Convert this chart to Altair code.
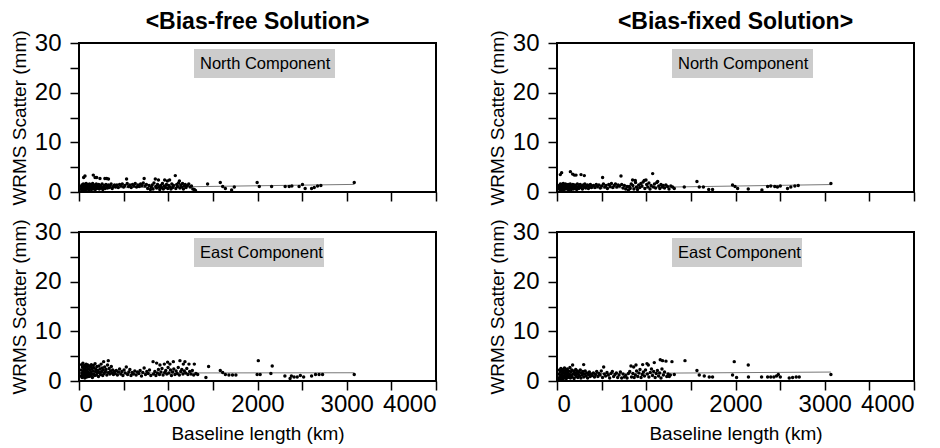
import altair as alt
import pandas as pd

FONT = "Liberation Sans"

# ---------------- data (baseline length km, WRMS scatter mm) ----------------
north_free = [
    (22,0.6),(25,1.1),(30,0.4),(33,1.4),(38,0.8),(42,1.2),(45,0.5),(48,1.6),(52,0.9),(55,1.3),
    (58,0.4),(62,1.0),(66,1.5),(70,0.7),(73,1.2),(77,0.5),(80,1.7),(84,0.9),(88,1.3),(92,0.6),
    (96,1.1),(100,1.5),(105,0.8),(110,0.4),(114,1.2),(118,1.6),(123,0.7),(128,1.0),(133,1.4),(138,0.5),
    (143,0.9),(148,1.3),(153,1.7),(158,0.6),(164,1.1),(170,0.8),(176,1.4),(182,0.5),(188,1.0),(194,1.6),
    (200,0.7),(207,1.2),(214,0.9),(221,1.5),(228,0.6),(235,1.1),(243,1.3),(251,0.8),(259,1.6),(267,0.5),
    (275,1.0),(284,1.3),(293,0.7),(302,1.5),(311,1.1),(320,0.8),(330,1.4),(340,0.9),(350,1.2),(360,1.6),
    (372,0.7),(385,1.1),(398,1.4),
    (52,2.9),(67,3.2),(160,3.4),(180,2.9),(198,2.9),(235,2.7),(290,2.7),(310,2.7),(330,2.6),
    (410,1.0),(425,1.4),(440,0.9),(455,1.5),(470,1.2),(485,1.6),(500,1.0),(515,1.3),(533,2.6),(540,1.7),
    (555,1.1),(570,1.4),(585,0.9),(600,1.5),(615,1.2),(630,1.7),(645,1.0),(660,1.4),(675,1.1),(690,1.6),
    (705,1.3),(720,1.8),(730,2.7),(740,1.2),(755,1.5),(770,0.7),(785,1.3),(800,0.5),
    (810,1.0),(820,1.4),(830,0.6),(840,1.8),(855,2.6),(860,1.1),(870,0.8),(880,1.5),(890,2.4),(895,1.0),
    (905,0.5),(915,1.3),(925,0.9),(935,1.7),(945,0.6),(955,1.2),(960,2.4),(970,0.9),(980,1.5),(990,2.2),
    (995,0.7),(1005,1.3),(1015,2.4),(1020,1.0),(1030,0.6),(1040,1.6),(1050,0.9),(1060,1.3),(1079,3.3),(1085,0.7),
    (1095,1.5),(1105,1.1),(1115,1.8),(1125,2.2),(1130,0.8),(1140,1.4),(1150,1.0),(1160,1.7),(1170,0.6),(1180,1.2),
    (1190,1.5),(1200,0.9),(1215,1.3),(1230,1.6),(1245,1.0),(1260,1.2),(1275,0.6),(1292,0.5),(1305,0.3),
    (1441,1.6),(1583,1.9),(1610,1.1),(1640,0.7),(1710,0.4),(1740,1.0),(1996,1.9),(2020,1.1),(2158,1.1),(2310,1.1),
    (2355,1.1),(2385,1.2),(2466,1.1),(2504,1.5),(2534,0.7),(2606,0.7),(2636,0.9),(2673,1.2),(2710,1.3),(3084,1.9),
]

east_free = [
    (20,1.0),(24,2.2),(28,3.3),(31,1.6),(35,0.7),(38,2.8),(41,1.3),(44,3.6),(47,2.0),(50,0.9),
    (53,2.5),(56,1.4),(59,3.1),(62,1.8),(65,0.6),(68,2.3),(71,1.1),(74,2.9),(77,1.6),(80,3.4),
    (83,2.1),(86,0.8),(89,1.9),(92,2.7),(95,1.2),(98,3.2),(102,1.7),(106,2.4),(110,0.9),(114,3.0),
    (118,1.5),(122,2.2),(126,1.0),(130,2.8),(134,1.8),(138,3.3),(142,1.3),(146,2.5),(150,0.7),(155,2.0),
    (160,3.1),(165,1.4),(170,2.6),(175,1.1),(180,3.5),(185,1.9),(190,2.3),(195,1.2),(200,2.9),(206,1.6),
    (212,2.1),(218,0.9),(224,3.0),(230,1.7),(236,2.4),(242,1.3),(248,3.4),(254,1.9),(260,2.6),(266,1.1),
    (272,2.2),(276,3.9),(280,1.5),(288,2.8),(296,1.8),(304,2.3),(312,1.2),(320,3.2),(328,4.1),(330,1.7),
    (338,2.5),(346,1.4),(354,2.0),(362,2.9),(370,1.6),(378,2.2),(386,1.3),(395,1.9),
    (405,1.5),(418,2.1),(430,1.2),(442,1.8),(455,2.4),(468,1.4),(480,1.9),(492,1.1),(505,2.2),(518,1.6),
    (530,2.8),(545,1.3),(558,1.8),(570,2.3),(583,1.1),(596,1.7),(610,1.4),(625,2.0),(640,1.2),(655,1.8),
    (670,1.5),(685,2.1),(700,1.0),(715,1.7),(730,2.6),(745,1.3),(760,1.9),(775,1.5),(790,2.2),(805,1.1),
    (830,3.9),(835,1.4),(850,1.9),(862,1.1),(870,3.6),(878,1.6),(890,2.3),(902,1.3),(907,3.2),(918,1.8),
    (930,2.5),(942,1.2),(956,3.4),(960,1.7),(972,2.1),(984,1.4),(993,3.8),(998,2.7),(1008,1.6),(1019,3.4),
    (1025,2.2),(1036,1.1),(1048,1.8),(1057,3.9),(1062,2.4),(1075,1.3),(1088,2.0),(1100,1.5),(1112,2.7),(1124,1.2),
    (1131,4.1),(1140,1.9),(1152,2.3),(1165,1.4),(1169,3.4),(1180,2.0),(1187,3.9),(1195,1.6),(1208,2.5),(1220,1.3),
    (1232,3.4),(1240,1.9),(1255,1.4),(1270,2.1),(1285,1.2),(1292,3.4),(1310,1.5),(1330,1.3),
    (1422,0.7),(1452,2.9),(1583,2.1),(1610,1.7),(1640,1.3),(1680,1.2),(1720,1.2),(1758,1.2),(1996,1.3),(2009,4.1),
    (2030,1.3),(2150,1.5),(2165,3.0),(2307,1.0),(2365,0.5),(2380,1.0),(2410,0.8),(2445,0.8),(2480,1.1),(2517,0.8),
    (2606,1.0),(2650,1.3),(2690,1.3),(2729,1.3),(3084,1.3),
]

north_fixed = [
    (20,0.8),(25,1.3),(30,0.5),(34,1.0),(38,1.6),(42,0.7),(46,1.2),(50,0.4),(54,1.5),(58,0.9),
    (62,1.3),(66,0.6),(70,1.7),(74,1.0),(78,0.5),(82,1.4),(86,0.8),(90,1.2),(95,1.6),(100,0.6),
    (105,1.1),(110,1.4),(115,0.7),(120,1.0),(125,1.5),(130,0.4),(136,1.2),(142,0.8),(148,1.6),(154,1.0),
    (160,0.5),(166,1.3),(172,0.9),(178,1.5),(185,0.6),(192,1.1),(199,1.4),(206,0.8),(213,1.2),(220,0.5),
    (228,1.6),(236,1.0),(244,0.7),(252,1.3),(260,1.5),(268,0.9),(276,1.2),(285,0.6),(294,1.4),(303,1.0),
    (312,1.6),(322,0.8),(332,1.2),(342,1.4),(352,0.7),(362,1.1),(374,1.5),(386,0.9),(398,1.2),
    (37,3.5),(52,3.9),(150,4.1),(175,3.6),(194,3.4),(213,3.4),(269,3.5),(306,3.3),
    (410,1.3),(425,0.9),(440,1.5),(455,1.1),(470,1.4),(485,0.8),(500,1.2),(511,2.9),(520,1.6),(535,1.0),
    (550,1.3),(565,0.7),(580,1.5),(595,1.1),(610,1.7),(625,0.9),(640,1.3),(655,1.6),(670,1.0),(685,1.4),
    (700,1.2),(717,3.2),(725,1.5),(740,0.8),(755,1.3),(770,0.6),(785,1.1),(800,0.4),
    (810,1.1),(820,0.7),(832,1.6),(847,2.4),(850,1.3),(862,0.6),(877,2.3),(880,1.9),(890,1.0),(902,0.5),
    (915,1.4),(928,0.9),(940,1.7),(952,1.2),(965,2.0),(978,2.3),(985,0.7),(997,2.4),(1005,1.5),(1018,1.0),
    (1030,1.8),(1042,0.6),(1055,1.3),(1072,3.7),(1080,1.0),(1092,1.6),(1105,0.8),(1118,1.9),(1128,2.1),(1140,1.2),
    (1152,0.7),(1165,1.5),(1178,1.0),(1190,1.3),(1205,0.8),(1220,1.4),(1238,1.1),(1255,0.6),(1275,1.2),(1295,1.0),
    (1314,0.7),
    (1426,1.0),(1568,2.1),(1594,1.0),(1640,1.0),(1700,0.5),(1743,0.5),(1967,1.4),(1995,1.1),(2024,0.7),(2143,0.6),
    (2296,0.4),(2360,1.1),(2395,1.2),(2440,1.1),(2470,1.0),(2502,1.2),(2583,0.7),(2620,1.0),(2665,1.2),(2703,1.3),
    (3069,1.7),
]

east_fixed = [
    (20,0.5),(24,1.4),(28,2.2),(32,0.9),(36,1.8),(40,0.4),(44,2.5),(48,1.2),(52,0.7),(56,2.0),
    (60,1.5),(64,0.3),(68,2.3),(72,1.0),(76,1.7),(80,0.6),(84,2.6),(88,1.3),(92,0.8),(96,2.1),
    (100,1.6),(104,0.5),(108,1.9),(112,1.1),(116,2.4),(120,0.7),(125,1.5),(130,2.0),(135,0.9),(140,1.3),
    (145,2.7),(150,0.6),(155,1.8),(160,1.1),(165,2.2),(170,0.8),(175,3.2),(180,1.4),(186,2.0),(192,0.5),
    (198,1.7),(204,1.2),(210,2.3),(216,0.9),(222,1.5),(228,2.0),(234,0.7),(240,1.3),(247,1.8),(254,1.0),
    (261,2.2),(268,0.6),(275,1.6),(282,1.2),(290,1.9),(299,3.3),(300,0.8),(308,1.4),(316,2.0),(325,1.0),
    (334,1.6),(343,0.6),(352,1.3),(362,1.8),(372,0.9),(382,1.4),(395,1.1),
    (408,1.6),(420,0.8),(432,1.3),(445,1.9),(458,0.9),(470,1.5),(483,1.2),(496,2.0),(510,0.7),(523,2.8),
    (530,1.4),(545,1.0),(560,1.7),(575,1.2),(590,0.6),(605,1.5),(620,1.9),(635,0.9),(650,1.3),(665,1.6),
    (680,0.7),(695,1.2),(710,1.8),(725,0.6),(740,1.4),(755,0.8),(770,1.1),(785,0.6),(800,1.5),
    (815,1.9),(829,3.0),(835,0.8),(850,1.5),(859,2.8),(865,0.7),(878,1.2),(885,3.2),(892,2.0),(905,0.9),
    (918,1.6),(930,2.3),(942,0.7),(955,1.3),(960,3.3),(968,1.8),(980,1.0),(992,2.2),(1008,3.5),(1012,1.4),
    (1023,3.2),(1030,0.8),(1045,1.7),(1058,2.4),(1070,1.1),(1083,1.9),(1090,3.7),(1100,0.7),(1112,1.5),(1125,2.1),
    (1138,1.0),(1150,1.6),(1157,4.3),(1165,0.6),(1176,2.4),(1183,4.1),(1192,1.2),(1205,1.8),(1221,4.0),(1230,0.9),
    (1245,1.4),(1258,0.9),(1270,1.2),(1288,3.9),(1314,1.3),
    (1434,4.1),(1568,2.1),(1594,1.2),(1650,1.0),(1706,0.8),(1743,0.8),(1967,1.2),(1986,3.9),(2012,0.7),(2143,3.2),
    (2145,0.8),(2292,0.8),(2360,0.8),(2395,0.8),(2430,0.8),(2460,1.0),(2480,1.3),(2502,0.8),(2602,0.6),(2640,0.7),
    (2680,0.8),(2714,0.8),(3069,1.3),
]

# fitted trend lines (two end points each)
fit_north_free = [(20, 0.75), (3084, 1.53)]
fit_east_free = [(20, 1.60), (3084, 1.66)]
fit_north_fixed = [(20, 0.65), (3069, 1.50)]
fit_east_fixed = [(20, 1.45), (3069, 1.80)]

X_TICKS = [0, 500, 1000, 1500, 2000, 2500, 3000, 3500, 4000]
Y_TICKS = [0, 5, 10, 15, 20, 25, 30]

W, H = 357, 149
LABEL_SIZE = 24
TITLE_SIZE = 19


def panel(points, fit, label, box_right, bottom, title=""):
    pts = pd.DataFrame(points, columns=["km", "wrms"])
    fit_df = pd.DataFrame(fit, columns=["km", "wrms"])
    lab_df = pd.DataFrame({"label": [label]})

    xaxis_kw = dict(values=X_TICKS, format="d", tickSize=9, tickWidth=1.5,
                    tickColor="black", domain=False, grid=False)
    if bottom:
        xaxis_kw.update(labelExpr="datum.value % 1000 == 0 ? datum.label : ''",
                        labelFontSize=LABEL_SIZE, labelFont=FONT, labelColor="black",
                        labelPadding=2, titleFontSize=TITLE_SIZE, titleFont=FONT,
                        titleFontWeight="normal", titleColor="black", titlePadding=8)
        xtitle = "Baseline length (km)"
    else:
        xaxis_kw.update(labels=False)
        xtitle = ""
    x = alt.X("km:Q", title=xtitle, scale=alt.Scale(domain=[0, 4000], nice=False),
              axis=alt.Axis(**xaxis_kw))

    yaxis = alt.Axis(values=Y_TICKS, labelExpr="datum.value % 10 == 0 ? datum.label : ''",
                     tickSize=9, tickWidth=1.5, tickColor="black", domain=False, grid=False,
                     labelFontSize=LABEL_SIZE, labelFont=FONT, labelColor="black", labelPadding=9,
                     titleFontSize=TITLE_SIZE, titleFont=FONT, titleFontWeight="normal",
                     titleColor="black", titlePadding=5)
    y = alt.Y("wrms:Q", title="WRMS Scatter (mm)",
              scale=alt.Scale(domain=[0, 30], nice=False), axis=yaxis)

    line = alt.Chart(fit_df).mark_line(color="#777777", strokeWidth=1).encode(x=x, y=y)
    dots = alt.Chart(pts).mark_circle(size=12, color="black", opacity=1).encode(x=x, y=y)
    box = alt.Chart(lab_df).mark_rect(color="#cccccc").encode(
        x=alt.value(115), x2=alt.value(box_right), y=alt.value(6), y2=alt.value(35))
    txt = alt.Chart(lab_df).mark_text(align="left", baseline="middle", font=FONT,
                                      fontSize=16.5, color="black").encode(
        x=alt.value(121), y=alt.value(21), text="label:N")

    ch = alt.layer(line, dots, box, txt).properties(width=W, height=H)
    if title:
        ch = ch.properties(title=alt.TitleParams(text=title, font=FONT, fontSize=23,
                                                 fontWeight="bold", color="black",
                                                 anchor="middle", frame="group", offset=-4))
    return ch


left = alt.vconcat(
    panel(north_free, fit_north_free, "North Component", 256, False, "<Bias-free Solution>"),
    panel(east_free, fit_east_free, "East Component", 245, True),
    spacing=10,
)
right = alt.vconcat(
    panel(north_fixed, fit_north_fixed, "North Component", 256, False, "<Bias-fixed Solution>"),
    panel(east_fixed, fit_east_fixed, "East Component", 245, True),
    spacing=10,
)

chart = alt.hconcat(left, right, spacing=49).properties(
    padding={"left": 1, "top": 1, "right": 0, "bottom": 0},
    background="white",
).configure_view(stroke="black", strokeWidth=2)

chart.save("out.html", embed_options={"renderer": "svg", "actions": False})
